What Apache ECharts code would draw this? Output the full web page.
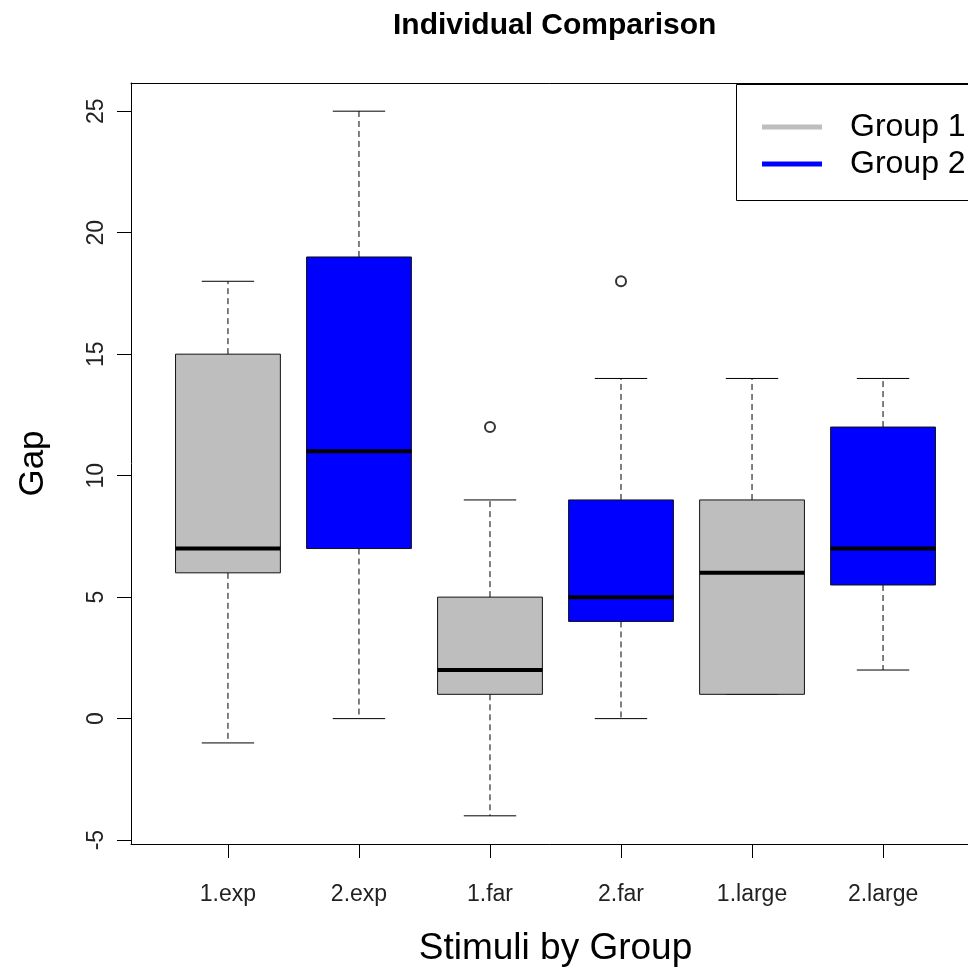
<!DOCTYPE html>
<html>
<head>
<meta charset="utf-8">
<script src="https://cdn.jsdelivr.net/npm/echarts@6/dist/echarts.min.js"></script>
<style>
html,body{margin:0;padding:0;background:#fff;}
#main{width:968px;height:968px;}
</style>
</head>
<body>
<div id="main"></div>
<script>
// box stats
var categories = ['1.exp', '2.exp', '1.far', '2.far', '1.large', '2.large'];
var groupOf = [1, 2, 1, 2, 1, 2];
var lowWhisker = [-1, 0, -4, 0, 1, 2];
var lowerQuartile = [6, 7, 1, 4, 1, 5.5];
var medians = [7, 11, 2, 5, 6, 7];
var upperQuartile = [15, 19, 5, 9, 9, 12];
var highWhisker = [18, 25, 9, 14, 14, 14];
var outlierPos = [3, 4];
var outlierVal = [12, 18];
var yTicks = [-5, 0, 5, 10, 15, 20, 25];
var xTicks = [1, 2, 3, 4, 5, 6];

var FONT = '"Liberation Sans", Arial, sans-serif';

function boxData(g) {
	var out = [];
	for (var i = 0; i < categories.length; i++) {
		if (groupOf[i] != g) continue;
		out.push([i + 1, lowWhisker[i], lowerQuartile[i], medians[i], upperQuartile[i], highWhisker[i]]);
	}
	return out;
}

function renderItem(params, api) {
	var x = api.value(0);
	var pMin = api.coord([x, api.value(1)]);
	var pQ1 = api.coord([x, api.value(2)]);
	var pMed = api.coord([x, api.value(3)]);
	var pQ3 = api.coord([x, api.value(4)]);
	var pMax = api.coord([x, api.value(5)]);
	var halfW = api.size([0.8, 0])[0] / 2;
	var capW = halfW / 2;
	var cx = pMed[0];
	var dash = {stroke: '#000', lineWidth: 1, lineDash: [6, 4]};
	var solid = {stroke: '#000', lineWidth: 1};
	return {
		type: 'group',
		children: [
			{type: 'line', shape: {x1: cx, y1: pQ1[1], x2: cx, y2: pMin[1]}, style: dash},
			{type: 'line', shape: {x1: cx, y1: pQ3[1], x2: cx, y2: pMax[1]}, style: dash},
			{type: 'line', shape: {x1: cx - capW, y1: pMin[1], x2: cx + capW, y2: pMin[1]}, style: solid},
			{type: 'line', shape: {x1: cx - capW, y1: pMax[1], x2: cx + capW, y2: pMax[1]}, style: solid},
			{type: 'rect', shape: {x: cx - halfW, y: pQ3[1], width: halfW * 2, height: pQ1[1] - pQ3[1]},
				style: {fill: api.visual('color'), stroke: '#111', lineWidth: 1}},
			{type: 'line', shape: {x1: cx - halfW, y1: pMed[1], x2: cx + halfW, y2: pMed[1]},
				style: {stroke: '#000', lineWidth: 4}}
		]
	};
}

var outliers = [];
for (var k = 0; k < outlierPos.length; k++) outliers.push([outlierPos[k], outlierVal[k]]);

var myChart = echarts.init(document.getElementById('main'));
var option = {
	backgroundColor: '#fff',
	animation: false,
	title: {
		text: 'Individual Comparison',
		left: 388,
		top: 6,
		textStyle: {fontFamily: FONT, fontSize: 30, fontWeight: 'bold', color: '#000'}
	},
	legend: {
		data: ['Group 1', 'Group 2'],
		orient: 'vertical',
		left: 757,
		top: 106,
		icon: 'rect',
		itemWidth: 60,
		itemHeight: 5,
		itemGap: 5,
		textStyle: {fontFamily: FONT, fontSize: 32, color: '#000', padding: [0, 0, 0, 23]}
	},
	// plot area runs past the right edge of the window, like the original
	grid: {
		left: 131,
		top: 83,
		width: 849,
		height: 761,
		outerBoundsMode: 'none',
		show: false
	},
	xAxis: [{
		type: 'value',
		min: 0.26,
		max: 6.74,
		name: 'Stimuli by Group',
		nameLocation: 'middle',
		nameGap: 86,
		nameTextStyle: {fontFamily: FONT, fontSize: 37, color: '#000'},
		axisLine: {show: true, onZero: false, lineStyle: {color: '#000', width: 1}},
		axisTick: {show: true, customValues: xTicks, length: 14, lineStyle: {color: '#000'}},
		axisLabel: {
			customValues: xTicks,
			margin: 39,
			fontFamily: FONT,
			fontSize: 23,
			color: '#222',
			formatter: function(v) { return categories[Math.round(v) - 1]; }
		},
		splitLine: {show: false}
	}, {
		type: 'value',
		position: 'top',
		min: 0.26,
		max: 6.74,
		axisLine: {show: true, onZero: false, lineStyle: {color: '#000', width: 1}},
		axisTick: {show: false},
		axisLabel: {show: false},
		splitLine: {show: false}
	}],
	yAxis: {
		type: 'value',
		min: -5.16,
		max: 26.16,
		name: 'Gap',
		nameLocation: 'middle',
		nameGap: 80,
		nameTextStyle: {fontFamily: FONT, fontSize: 35, color: '#000'},
		axisLine: {show: true, onZero: false, lineStyle: {color: '#000', width: 1}},
		axisTick: {show: true, customValues: yTicks, length: 14, lineStyle: {color: '#000'}},
		axisLabel: {
			customValues: yTicks,
			rotate: 90,
			margin: 23,
			fontFamily: FONT,
			fontSize: 23,
			color: '#222'
		},
		splitLine: {show: false}
	},
	graphic: [
		{type: 'rect', left: 734, top: 82, shape: {width: 300, height: 116},
			style: {fill: 'none', stroke: '#000', lineWidth: 1}, z: 10, silent: true}
	],
	series: [
		{
			name: 'Group 1',
			type: 'custom',
			renderItem: renderItem,
			itemStyle: {color: '#BEBEBE'},
			encode: {x: 0, y: [1, 2, 3, 4, 5]},
			data: boxData(1)
		},
		{
			name: 'Group 2',
			type: 'custom',
			renderItem: renderItem,
			itemStyle: {color: '#0000FF'},
			encode: {x: 0, y: [1, 2, 3, 4, 5]},
			data: boxData(2)
		},
		{
			name: 'outliers',
			type: 'scatter',
			symbol: 'emptyCircle',
			symbolSize: 10,
			itemStyle: {color: '#000', borderWidth: 1},
			data: outliers
		}
	]
};
myChart.setOption(option);
</script>
</body>
</html>
